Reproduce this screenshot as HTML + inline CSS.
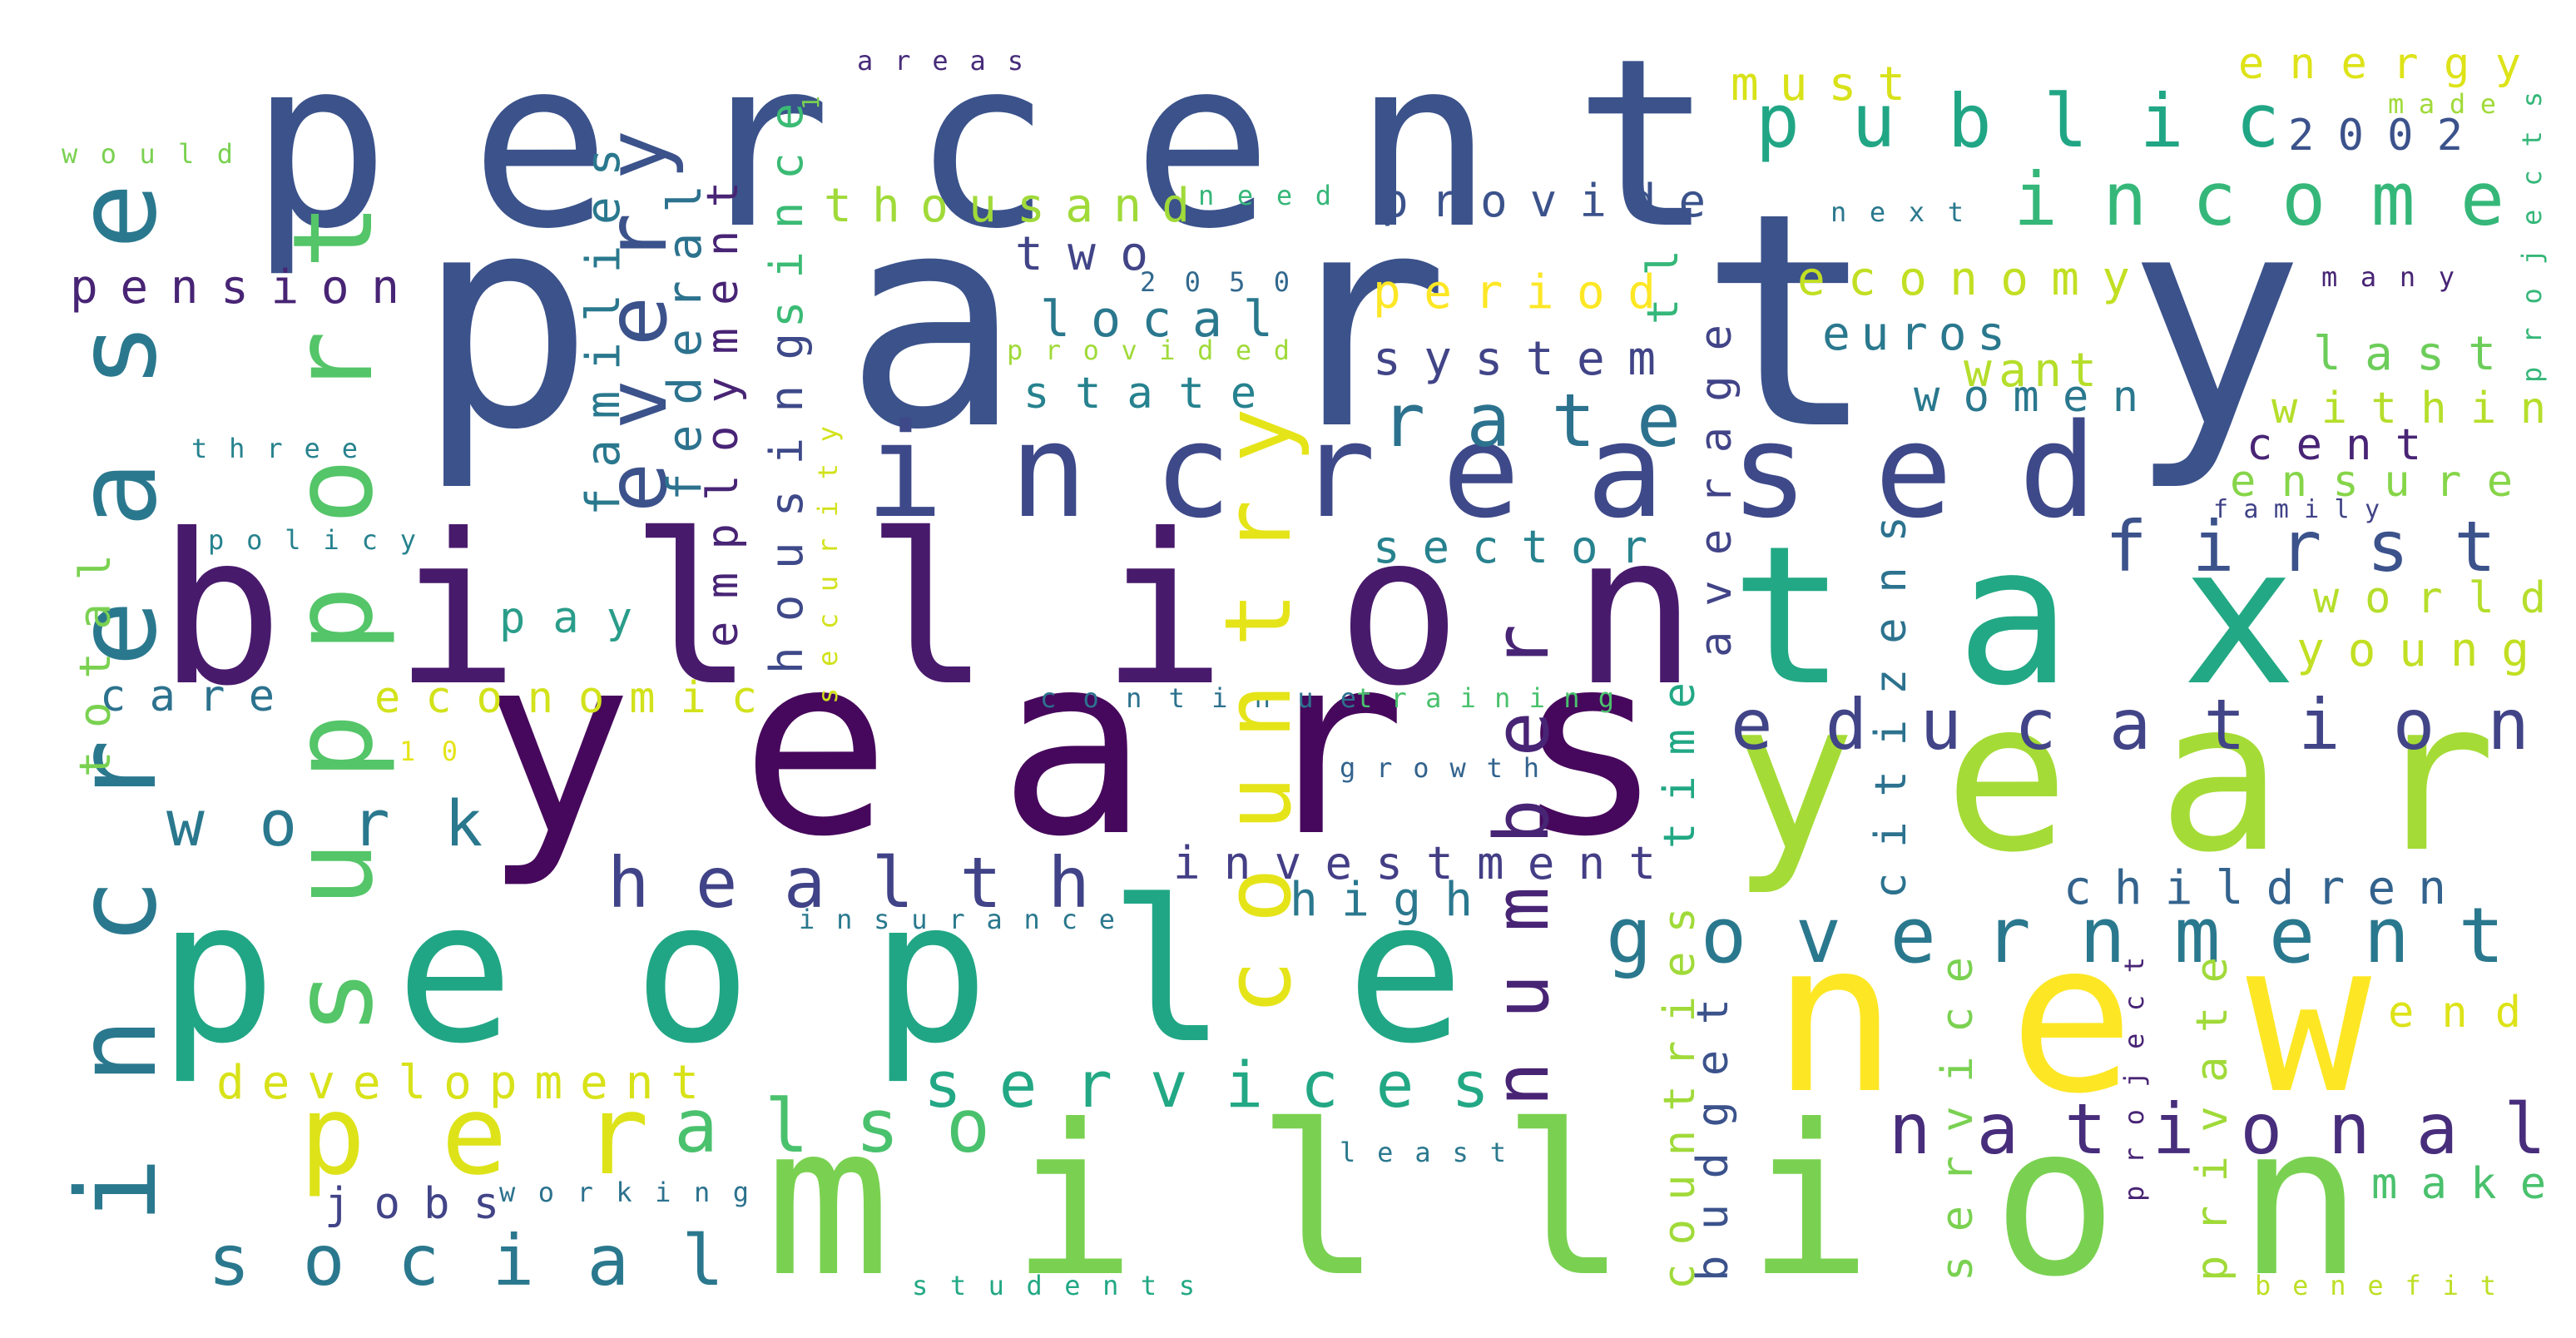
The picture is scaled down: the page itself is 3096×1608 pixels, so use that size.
<!DOCTYPE html>
<html><head><meta charset="utf-8"><style>
html,body{margin:0;padding:0;background:#fff;}
svg{display:block;}
text{font-family:"DejaVu Sans Mono","Liberation Mono",monospace;}
</style></head><body>
<svg width="3096" height="1608" viewBox="0 0 1548 804" xmlns="http://www.w3.org/2000/svg">
<rect x="0" y="0" width="1548" height="804" fill="#ffffff"/>
<g id="cloud"></g>
</svg>
<script>
// word, anchor x, anchor y (baseline), font size, text length, color, rotated
const words = ["party","percent","billion","years","people","million","tax","year","new","increased","education","government","national","health","services","also","per","social","work","public","income","first","rate","children","investment","economy","euros","want","women","last","within","cent","ensure","world","young","end","make","benefit","energy","made","2002","next","many","family","must","provide","need","thousand","two","2050","local","period","provided","system","state","sector","pay","economic","care","continue","training","10","growth","high","insurance","pension","would","areas","three","policy","development","jobs","working","least","students",
"increase","support","country","number","every","families","federal","employment","housing","since","1","security","total","time","average","tl","countries","budget","citizens","service","private","project","projects"];
const xs = [250,150,95,290,95,460,1040,1040,1065,520,1040,965,1135,365,555,405,180,125,100,1055,1210,1265,830,1240,705,1080,1095,1180,1150,1390,1365,1350,1340,1390,1380,1435,1425,1355,1345,1435,1375,1100,1395,1330,1040,830,720,495,610,685,625,825,605,825,615,825,300,225,60,625,815,240,805,775,480,42,37,515,115,125,130,195,300,805,548,
93,223,775,930,400,372,421,443,482,482,492,503,66,1018,1040,1008,1018,1038,1145,1185,1338,1288,1527];
const ys = [255,135,410,500,625,765,410,510,655,310,450,578,693,545,665,692,705,772,508,88,135,343,268,543,528,177,210,232,247,222,254,276,298,368,400,617,720,778,47,68,90,133,172,311,60,130,123,133,162,175,202,185,216,225,245,338,380,428,427,425,425,457,467,550,558,182,98,42,275,330,660,732,722,698,778,
735,622,610,665,308,310,301,389,405,197,66,423,467,510,395,195,775,770,540,770,770,722,230];
const sizes = [178,140,125,150,118,125,115,125,125,78,42,46,42,42,38,44,66,42,38,44,44,42,44,28,27,28,28,28,26,28,26,26,26,26,28,26,26,16,26,16,26,16,16,15,28,27,16,28,28,16,30,28,16,28,26,27,26,26,26,16,16,16,16,28,16,28,16,16,16,16,28,26,16,16,16,
66,66,55,45,50,28,28,26,27,27,14,16,26,26,26,26,26,26,26,26,26,16,16];
const lens = [1135,880,925,710,785,960,340,460,360,740,480,540,395,290,340,190,210,310,190,315,295,235,180,230,290,200,110,80,135,110,165,105,170,140,140,80,105,145,170,65,105,80,80,100,105,195,80,220,80,90,140,170,170,170,140,165,80,230,105,190,155,35,120,110,190,198,103,100,100,125,290,105,150,100,170,
625,500,365,290,230,221,190,280,205,135,12,167,134,100,200,45,230,170,230,195,195,147,175];
const colors = ["#3b528b","#3b528b","#481a6c","#46085c","#21a685","#7ad151","#22a884","#a5db36","#fde725","#3e4989","#414487","#2a788e","#472d7b","#404387","#22a884","#4ac16d","#dde318","#2a788e","#2a788e","#21a685","#35b779","#3b528b","#2c728e","#33638d","#433e85","#c2df23","#2a788e","#b5de2b","#2a788e","#6ccd5a","#b5de2b","#482475","#86d549","#b5de2b","#c2df23","#dde318","#4ac16d","#bddf26","#dde318","#a0da39","#3b528b","#2a788e","#482475","#404387","#d8e219","#3b528b","#35b779","#a0da39","#414487","#31688e","#2a788e","#fde725","#a0da39","#414487","#26828e","#26828e","#2a9d8a","#d2e21b","#2c728e","#2c728e","#4ac16d","#e5e419","#33638d","#2a788e","#2a788e","#482475","#7ad151","#472c7a","#26828e","#26828e","#d8e219","#414487","#2c728e","#2a788e","#22a884",
"#2a788e","#54c568","#e5e419","#482475","#3b528b","#2a788e","#2c728e","#482475","#3e4989","#3bbb75","#7ad151","#d2e21b","#7ad151","#22a884","#414487","#35b779","#a0da39","#3b528b","#2c728e","#7ad151","#a0da39","#482475","#35b779"];
const rotated = [0,0,0,0,0,0,0,0,0,0,0,0,0,0,0,0,0,0,0,0,0,0,0,0,0,0,0,0,0,0,0,0,0,0,0,0,0,0,0,0,0,0,0,0,0,0,0,0,0,0,0,0,0,0,0,0,0,0,0,0,0,0,0,0,0,0,0,0,0,0,0,0,0,0,0,
1,1,1,1,1,1,1,1,1,1,1,1,1,1,1,1,1,1,1,1,1,1,1];

const g = document.getElementById('cloud');
const NS = "http://www.w3.org/2000/svg";
for (let i = 0; i < words.length; i++) {
  const t = document.createElementNS(NS, 'text');
  
  
  t.setAttribute('x', xs[i]);
  t.setAttribute('y', ys[i]);
  t.setAttribute('font-size', sizes[i]);
  t.setAttribute('fill', colors[i]);
  if (words[i].length > 1) {
    t.setAttribute('textLength', lens[i]);
    t.setAttribute('lengthAdjust', 'spacing');
  }
  if (rotated[i]) t.setAttribute('transform', 'rotate(-90 ' + xs[i] + ' ' + ys[i] + ')');
  t.textContent = words[i];
  g.appendChild(t);
}
</script>
</body></html>
